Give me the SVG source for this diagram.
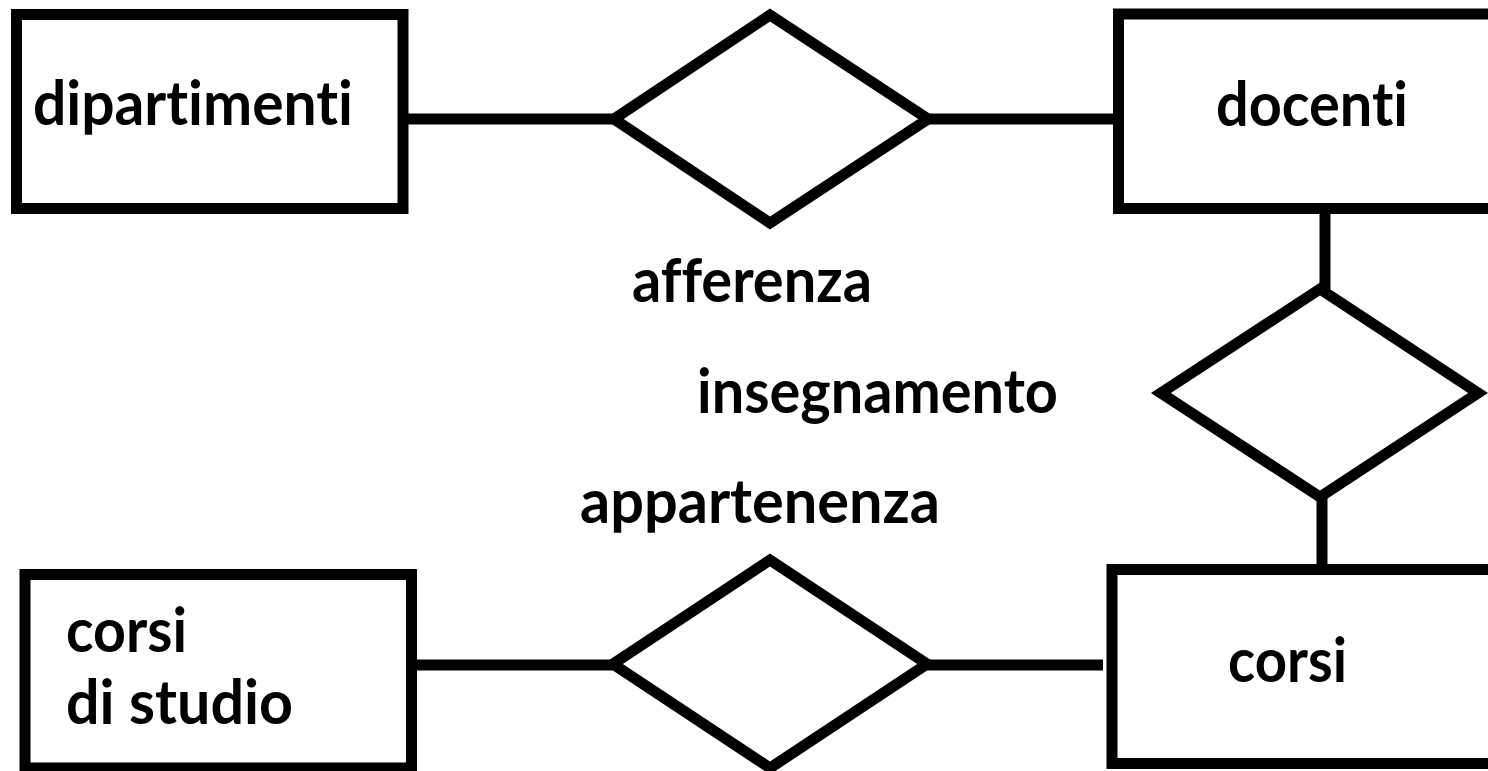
<svg xmlns="http://www.w3.org/2000/svg" width="1488" height="771" viewBox="0 0 1488 771">
<style>
.shape{fill:#fff;stroke:#000;stroke-width:11;stroke-linejoin:miter}
.conn{stroke:#000;stroke-width:11;fill:none}
.lbl{font-family:Lato,"Open Sans","Liberation Sans",sans-serif;font-weight:bold;font-size:62px;fill:#000;font-variant-ligatures:none;font-feature-settings:"liga" 0,"dlig" 0}
</style>
<rect width="1488" height="771" fill="#fff"/>
<g id="connectors">
<line class="conn" x1="408" y1="119" x2="614" y2="119"/>
<line class="conn" x1="928" y1="119" x2="1118" y2="119"/>
<line class="conn" x1="1325" y1="214" x2="1325" y2="289"/>
<line class="conn" x1="1322" y1="497" x2="1322" y2="566"/>
<line class="conn" x1="417" y1="665" x2="613" y2="665"/>
<line class="conn" x1="927" y1="665" x2="1103" y2="665"/>
</g>
<g id="dipartimenti">
<rect class="shape" x="16.5" y="14.5" width="386.5" height="194"/>
<text class="lbl" x="33" y="125" textLength="320" lengthAdjust="spacingAndGlyphs">dipartimenti</text>
</g>
<g id="docenti">
<rect class="shape" x="1118.5" y="14" width="400" height="194.5"/>
<text class="lbl" x="1216" y="126" textLength="192" lengthAdjust="spacingAndGlyphs">docenti</text>
</g>
<g id="corsi-di-studio">
<rect class="shape" x="25" y="574.5" width="386.5" height="193.5"/>
<text class="lbl" x="66" y="652" textLength="121" lengthAdjust="spacingAndGlyphs">corsi</text>
<text class="lbl" x="66" y="724" textLength="227" lengthAdjust="spacingAndGlyphs">di studio</text>
</g>
<g id="corsi">
<rect class="shape" x="1112" y="569.5" width="400" height="194"/>
<text class="lbl" x="1228" y="682" textLength="119" lengthAdjust="spacingAndGlyphs">corsi</text>
</g>
<g id="afferenza">
<polygon class="shape" points="770,15 928,119 770,223 614,119"/>
<text class="lbl" x="632" y="302" textLength="240" lengthAdjust="spacingAndGlyphs">afferenza</text>
</g>
<g id="insegnamento">
<polygon class="shape" points="1320,289 1478,393 1320,497 1161,393"/>
<text class="lbl" x="697" y="413" textLength="361" lengthAdjust="spacingAndGlyphs">insegnamento</text>
</g>
<g id="appartenenza">
<polygon class="shape" points="770,560 927,664 770,768 613,664"/>
<text class="lbl" x="580" y="523" textLength="360" lengthAdjust="spacingAndGlyphs">appartenenza</text>
</g>
</svg>
